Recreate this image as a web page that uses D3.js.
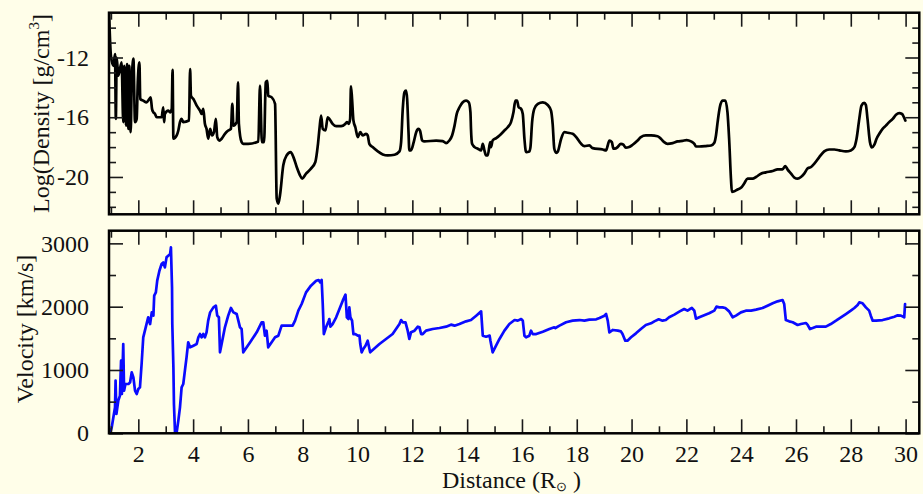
<!DOCTYPE html>
<html>
<head>
<meta charset="utf-8">
<script src="https://cdn.jsdelivr.net/npm/d3@7"></script>
<style>
  html, body { margin: 0; padding: 0; background: #fffee9; }
  svg { display: block; }
</style>
</head>
<body>
<svg id="chart" width="923" height="494"></svg>
<script>
// ---- Data: density and velocity profiles against distance (solar radii) ----
const distDensity = [0.93,1.00,1.09,1.15,1.18,1.21,1.27,1.39,1.45,1.49,1.55,1.59,1.64,1.67,1.72,1.76,1.82,1.88,1.94,1.98,
  2.04,2.07,2.18,2.30,2.40,2.45,2.50,2.55,2.61,2.67,2.85,2.91,2.94,2.97,3.09,3.16,3.22,3.25,3.28,3.40,3.46,3.52,3.58,3.64,
  3.85,3.89,3.92,4.01,4.13,4.25,4.31,4.37,4.43,4.49,4.55,4.62,4.69,4.76,4.83,4.88,4.96,5.04,5.16,5.28,5.38,5.43,5.47,5.59,
  5.64,5.67,5.77,5.83,6.01,6.38,6.44,6.51,6.59,6.65,6.71,6.74,6.87,6.99,7.05,7.11,7.17,7.29,7.41,7.56,7.66,7.78,7.90,7.98,
  8.12,8.30,8.46,8.55,8.61,8.67,8.73,8.83,8.91,8.97,9.09,9.22,9.40,9.56,9.61,9.68,9.73,9.76,9.80,9.85,9.92,10.01,10.10,
  10.19,10.31,10.37,10.43,10.55,10.74,10.92,11.10,11.35,11.53,11.59,11.65,11.71,11.77,11.81,11.86,11.89,11.95,12.05,12.14,
  12.22,12.28,12.36,12.44,12.87,13.11,13.23,13.35,13.45,13.54,13.62,13.72,13.84,13.96,14.06,14.12,14.14,14.18,14.27,14.39,
  14.51,14.57,14.63,14.69,14.75,14.84,14.87,14.93,15.06,15.18,15.36,15.48,15.60,15.69,15.76,15.82,15.88,15.97,16.03,16.09,
  16.15,16.27,16.31,16.37,16.45,16.58,16.76,16.94,17.06,17.12,17.18,17.25,17.31,17.43,17.55,17.67,17.85,17.98,18.16,18.28,
  18.46,18.58,18.95,19.07,19.13,19.19,19.28,19.34,19.44,19.49,19.61,19.70,19.79,19.91,20.04,20.22,20.34,20.52,20.71,20.95,
  21.07,21.19,21.31,21.50,21.68,21.86,22.01,22.17,22.29,22.35,22.47,22.71,22.90,23.02,23.08,23.14,23.22,23.32,23.42,23.50,
  23.56,23.63,23.66,23.75,23.87,23.99,24.11,24.23,24.42,24.54,24.72,24.90,25.15,25.33,25.51,25.61,25.69,25.82,25.94,26.06,
  26.18,26.30,26.42,26.55,26.67,26.85,27.03,27.21,27.40,27.58,27.82,28.00,28.13,28.21,28.31,28.39,28.49,28.55,28.61,28.70,
  28.77,28.86,28.94,29.04,29.16,29.28,29.40,29.53,29.65,29.77,29.87,29.91,29.99];

const logDensity = [-8.8,-11.89,-12.56,-11.78,-16.11,-12.0,-13.22,-12.33,-16.33,-12.56,-16.56,-12.44,-16.78,-12.56,-17.0,-13.67,-12.07,-16.33,-16.11,-13.67,
  -12.33,-14.78,-14.89,-15.0,-14.78,-14.67,-15.44,-15.67,-15.78,-16.0,-16.0,-15.33,-16.33,-15.78,-15.56,-15.67,-15.44,-12.82,-17.44,-17.22,-16.89,-16.33,-16.11,-16.33,
  -16.22,-12.78,-14.56,-14.78,-15.22,-15.56,-15.78,-15.44,-16.44,-16.78,-17.44,-16.78,-17.22,-17.0,-16.11,-17.33,-17.56,-17.44,-17.11,-16.89,-16.78,-15.11,-16.56,-16.33,
  -13.67,-16.44,-17.67,-17.78,-17.78,-17.62,-13.89,-17.67,-17.67,-13.67,-13.56,-14.56,-14.67,-15.11,-21.44,-21.78,-21.22,-19.22,-18.56,-18.33,-18.67,-19.33,-19.89,-20.11,
  -19.78,-19.44,-19.0,-17.89,-16.78,-15.89,-16.78,-16.89,-16.0,-16.11,-16.44,-16.6,-16.6,-16.44,-16.33,-16.44,-16.11,-13.93,-14.78,-16.22,-16.67,-17.33,-17.0,
  -17.22,-17.11,-17.22,-17.78,-18.0,-18.29,-18.49,-18.56,-18.51,-18.29,-17.67,-15.44,-14.33,-14.22,-14.78,-17.0,-18.22,-18.22,-17.67,-17.0,
  -16.78,-16.89,-17.56,-17.62,-17.56,-17.6,-17.73,-17.56,-17.22,-16.56,-15.78,-15.33,-15.0,-14.89,-15.0,-15.67,-16.78,-17.78,-18.0,-18.11,
  -18.22,-17.78,-18.22,-18.56,-18.56,-17.67,-18.0,-17.56,-17.4,-17.22,-16.89,-16.67,-16.33,-15.67,-14.89,-14.89,-15.33,-15.44,-15.78,-17.44,
  -18.33,-18.29,-18.0,-16.33,-15.44,-15.11,-15.0,-15.18,-15.56,-16.44,-18.11,-18.38,-18.29,-17.44,-17.0,-17.04,-17.11,-17.33,-17.78,-17.93,
  -17.89,-18.07,-18.16,-18.22,-17.89,-17.56,-17.67,-18.11,-18.07,-18.0,-17.78,-17.84,-18.04,-18.0,-17.84,-17.56,-17.33,-17.22,-17.22,-17.27,
  -17.44,-17.67,-17.78,-17.73,-17.62,-17.58,-17.53,-17.62,-17.78,-17.96,-17.96,-17.93,-17.89,-17.71,-17.22,-16.33,-15.33,-14.89,-14.89,-15.67,
  -17.44,-20.22,-21.0,-20.96,-20.84,-20.73,-20.44,-20.11,-20.11,-20.0,-19.78,-19.69,-19.6,-19.49,-19.49,-19.27,-19.49,-19.78,-20.04,-20.11,
  -20.0,-19.78,-19.44,-19.33,-19.11,-18.67,-18.29,-18.16,-18.16,-18.22,-18.29,-18.22,-18.0,-17.44,-16.11,-15.22,-15.04,-15.18,-16.11,-17.67,
  -18.02,-17.84,-17.44,-17.11,-16.78,-16.56,-16.33,-16.11,-15.84,-15.73,-15.78,-15.89,-16.22];

const distVelocity = [0.97,1.03,1.09,1.15,1.17,1.20,1.27,1.33,1.37,1.40,1.45,1.48,1.53,1.64,1.70,1.76,1.82,1.88,1.94,2.00,
  2.06,2.12,2.18,2.27,2.36,2.43,2.49,2.55,2.58,2.64,2.69,2.77,2.85,2.91,2.97,3.03,3.16,3.19,3.23,3.24,3.28,3.30,3.34,3.40,
  3.46,3.52,3.58,3.64,3.70,3.76,3.82,3.89,4.01,4.13,4.19,4.25,4.31,4.37,4.43,4.49,4.55,4.62,4.74,4.83,4.88,4.94,4.98,5.04,
  5.16,5.28,5.38,5.47,5.59,5.65,5.71,5.77,5.83,6.08,6.32,6.50,6.56,6.62,6.68,6.74,6.99,7.11,7.23,7.63,7.72,7.84,7.96,8.12,
  8.30,8.49,8.58,8.64,8.69,8.73,8.77,8.85,8.95,8.97,9.01,9.09,9.22,9.34,9.46,9.56,9.61,9.67,9.70,9.74,9.80,9.85,9.92,10.01,
  10.07,10.10,10.15,10.21,10.29,10.37,10.41,10.46,10.80,11.28,11.53,11.59,11.65,11.75,11.83,11.89,11.95,12.08,12.20,12.26,
  12.32,12.38,12.50,12.74,12.99,13.23,13.41,13.54,13.72,13.96,14.14,14.33,14.51,14.57,14.69,14.82,14.85,14.93,15.18,15.36,
  15.54,15.73,15.85,15.97,16.03,16.09,16.15,16.27,16.33,16.39,16.52,16.76,17.00,17.18,17.22,17.37,17.61,17.85,18.10,18.28,
  18.46,18.71,18.83,19.01,19.07,19.13,19.19,19.32,19.50,19.61,19.67,19.77,19.85,19.98,20.16,20.34,20.52,20.71,20.83,20.99,
  21.13,21.25,21.37,21.56,21.74,21.92,22.04,22.13,22.20,22.29,22.35,22.47,22.65,22.83,23.02,23.10,23.20,23.32,23.42,23.56,
  23.69,23.81,23.99,24.17,24.36,24.54,24.78,24.96,25.15,25.33,25.51,25.57,25.63,25.75,25.88,26.06,26.18,26.36,26.42,26.51,
  26.61,26.73,27.09,27.27,27.46,27.64,27.82,28.00,28.13,28.25,28.31,28.43,28.55,28.67,28.73,28.80,28.92,29.16,29.40,29.59,
  29.71,29.83,29.95,29.98];

const velocity = [0,95,253,410,832,305,516,595,1147,621,1410,674,779,779,805,963,884,674,621,700,
  726,1095,1516,1674,1832,1726,1910,1858,2174,2226,2411,2568,2674,2700,2621,2779,2832,2937,2305,1726,1042,463,0,16,
  200,410,726,779,989,1200,1437,1358,1384,1410,1516,1568,1516,1568,1516,1595,1779,1910,1989,2016,1858,1832,1279,1410,
  1674,1858,1979,1910,1884,1779,1674,1647,1279,1437,1595,1753,1753,1542,1621,1358,1516,1542,1700,1700,1779,1937,2042,2226,
  2332,2410,2421,2384,2421,2042,1568,1674,1779,1805,1684,1726,1832,1963,2095,2190,1832,1805,1989,1832,1779,1568,1568,1542,
  1542,1410,1279,1332,1384,1463,1384,1279,1410,1568,1726,1789,1753,1753,1621,1490,1595,1621,1684,1674,
  1568,1568,1621,1647,1663,1684,1716,1700,1726,1768,1789,1858,1926,1542,1526,1542,1463,1279,1490,1621,
  1726,1789,1779,1805,1779,1542,1516,1542,1621,1568,1568,1605,1647,1674,1663,1700,1753,1779,1789,1779,
  1795,1800,1821,1858,1884,1779,1595,1632,1621,1610,1568,1463,1463,1516,1579,1647,1711,1737,1768,1800,
  1779,1789,1832,1874,1921,1963,1937,1963,1979,1937,1810,1832,1863,1895,1937,2000,1989,1989,1979,1926,
  1832,1858,1910,1937,1937,1953,1979,2016,2053,2084,2105,2042,1789,1768,1753,1711,1726,1742,1716,1647,
  1663,1684,1684,1726,1779,1832,1884,1937,1979,2026,2068,2053,1989,1937,1858,1779,1779,1789,1816,1842,
  1863,1858,1832,2042];

// ---- Axis extents and ticks ----
const distRange = [0.93, 30.5];
const densityRange = [-22.5, -9];
const velocityRange = [0, 3200];
const distMajor = [2,4,6,8,10,12,14,16,18,20,22,24,26,28,30];
const distMinor = [1,3,5,7,9,11,13,15,17,19,21,23,25,27,29];
const densityMajor = [-12, -16, -20];
const densityMinor = [-22,-21,-19,-18,-17,-15,-14,-13,-11,-10];
const velocityMajor = [0, 1000, 2000, 3000];
const velocityMinor = [500, 1500, 2500];

// ---- Layout ----
const FONT = "'Liberation Serif', 'Times New Roman', serif";
const plotLeft = 109, plotRight = 919.3;
const topPanel = { top: 12.7, bottom: 214.3 };
const botPanel = { top: 230.7, bottom: 433.3 };

const svg = d3.select("#chart");

const x = d3.scaleLinear().domain(distRange).range([plotLeft, plotRight]);
const yDen = d3.scaleLinear().domain(densityRange).range([topPanel.bottom, topPanel.top]);
const yVel = d3.scaleLinear().domain(velocityRange).range([botPanel.bottom, botPanel.top]);

function styleAxis(g) {
  g.select(".domain").remove();
  g.attr("font-family", null).attr("font-size", null);
  g.selectAll(".tick line").attr("stroke", "#1a1a1a").attr("stroke-width", 1.6);
  g.selectAll(".tick text")
    .attr("font-family", FONT)
    .attr("font-size", 24)
    .attr("fill", "#111");
}

function drawPanel(id, y, box, yMajor, yMinor, showXLabels, xs, ys, color) {
  const g = svg.append("g").attr("class", "panel-" + id);

  // clip region for the data line
  svg.append("clipPath").attr("id", "clip-" + id)
    .append("rect")
    .attr("x", plotLeft).attr("y", box.top)
    .attr("width", plotRight - plotLeft).attr("height", box.bottom - box.top);

  const pts = xs.map((d, i) => [d, ys[i]]);
  const line = d3.line()
    .x(d => x(d[0]))
    .y(d => y(d[1]))
    .curve(id === "density" ? d3.curveMonotoneX : d3.curveLinear);

  g.append("path")
    .datum(pts)
    .attr("clip-path", `url(#clip-${id})`)
    .attr("fill", "none")
    .attr("stroke", color)
    .attr("stroke-width", 2.7)
    .attr("stroke-linejoin", "round")
    .attr("stroke-linecap", "round")
    .attr("d", line);

  const none = () => "";

  // bottom edge
  g.append("g").attr("transform", `translate(0,${box.bottom})`)
    .call(d3.axisBottom(x).tickValues(distMajor).tickSize(-14).tickPadding(11.5)
      .tickFormat(showXLabels ? d => String(d) : none))
    .call(styleAxis);
  g.append("g").attr("transform", `translate(0,${box.bottom})`)
    .call(d3.axisBottom(x).tickValues(distMinor).tickSize(-7).tickFormat(none))
    .call(styleAxis);
  // top edge
  g.append("g").attr("transform", `translate(0,${box.top})`)
    .call(d3.axisTop(x).tickValues(distMajor).tickSize(-14).tickFormat(none))
    .call(styleAxis);
  g.append("g").attr("transform", `translate(0,${box.top})`)
    .call(d3.axisTop(x).tickValues(distMinor).tickSize(-7).tickFormat(none))
    .call(styleAxis);
  // left edge
  g.append("g").attr("transform", `translate(${plotLeft},0)`)
    .call(d3.axisLeft(y).tickValues(yMajor).tickSize(-14).tickPadding(20)
      .tickFormat(d => String(d)))
    .call(styleAxis);
  g.append("g").attr("transform", `translate(${plotLeft},0)`)
    .call(d3.axisLeft(y).tickValues(yMinor).tickSize(-7).tickFormat(none))
    .call(styleAxis);
  // right edge
  g.append("g").attr("transform", `translate(${plotRight},0)`)
    .call(d3.axisRight(y).tickValues(yMajor).tickSize(-14).tickFormat(none))
    .call(styleAxis);
  g.append("g").attr("transform", `translate(${plotRight},0)`)
    .call(d3.axisRight(y).tickValues(yMinor).tickSize(-7).tickFormat(none))
    .call(styleAxis);

  // frame
  g.append("rect")
    .attr("x", plotLeft).attr("y", box.top)
    .attr("width", plotRight - plotLeft).attr("height", box.bottom - box.top)
    .attr("fill", "none")
    .attr("stroke", "#000")
    .attr("stroke-width", 2.5);
}

drawPanel("density", yDen, topPanel, densityMajor, densityMinor, false,
  distDensity, logDensity, "#000");
drawPanel("velocity", yVel, botPanel, velocityMajor, velocityMinor, true,
  distVelocity, velocity, "#0a0aff");

// ---- Axis titles ----
const denTitle = svg.append("text")
  .attr("transform", `translate(49,${(topPanel.top + topPanel.bottom) / 2}) rotate(-90)`)
  .attr("text-anchor", "middle")
  .attr("font-family", FONT).attr("font-size", 24).attr("fill", "#111");
denTitle.append("tspan").text("Log(Density [g/cm");
denTitle.append("tspan").attr("font-size", 15).attr("dy", -10).text("3");
denTitle.append("tspan").attr("dy", 10).text("]");

svg.append("text")
  .attr("transform", `translate(33,329) rotate(-90)`)
  .attr("text-anchor", "middle")
  .attr("font-family", FONT).attr("font-size", 24).attr("fill", "#111")
  .text("Velocity [km/s]");

const distTitle = svg.append("text")
  .attr("x", 442).attr("y", 488)
  .attr("font-family", FONT).attr("font-size", 24).attr("fill", "#111");
distTitle.append("tspan").text("Distance (R");
distTitle.append("tspan").attr("font-size", 13).attr("dy", 3).text("\u2299");
distTitle.append("tspan").attr("dy", -3).text(" )");
</script>
</body>
</html>
